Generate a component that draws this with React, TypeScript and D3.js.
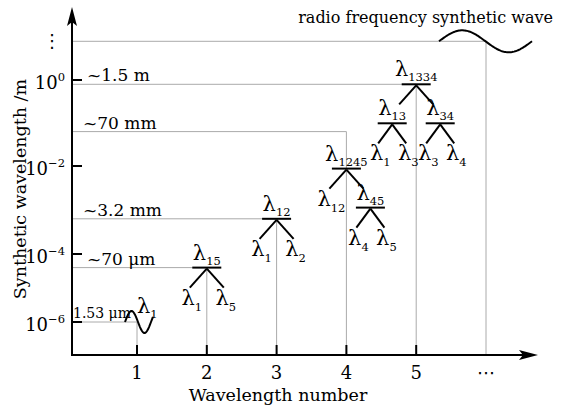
import * as d3 from "d3"

// schematic axes: x = wavelength number, y = log10(synthetic wavelength / m)
const xCategories = [1, 2, 3, 4, 5]
const xTickLabels = ["1", "2", "3", "4", "5", "⋯"]
const yTickExponents = [-6, -4, -2, 0]
const synthLabels = ["1.53 μm", "~70 μm", "~3.2 mm", "~70 mm", "~1.5 m"]
const synthLevels = [-6, -4.4, -3.2, -1.2, -0.1]
const rfCategory = 6
const rfLevel = 0.9

type Node = { sub: string; children?: Node[] }

const trees: { n: number; node: Node }[] = [
  { n: 2, node: { sub: "15", children: [{ sub: "1" }, { sub: "5" }] } },
  { n: 3, node: { sub: "12", children: [{ sub: "1" }, { sub: "2" }] } },
  {
    n: 4,
    node: {
      sub: "1245",
      children: [{ sub: "12" }, { sub: "45", children: [{ sub: "4" }, { sub: "5" }] }],
    },
  },
  {
    n: 5,
    node: {
      sub: "1334",
      children: [
        { sub: "13", children: [{ sub: "1" }, { sub: "3" }] },
        { sub: "34", children: [{ sub: "3" }, { sub: "4" }] },
      ],
    },
  },
]

const W = 572
const H = 409
const axisX = 72
const axisY = 355
const font = "DejaVu Serif, DejaVu Sans, serif"

// the picture is not to scale, so the y scale is piecewise between decades
const x = d3.scaleLinear().domain([1, 6]).range([137, 486])
const y = d3.scaleLinear().domain([-6, -4, -2, 0, 1]).range([322, 254, 166, 80, 37])

function Lambda({ x, y, sub, dy = 6 }: { x: number; y: number; sub: string; dy?: number }) {
  return (
    <text x={x} y={y} textAnchor="middle" fontSize={21} fontFamily={font}>
      λ
      <tspan fontSize={11.5} dy={dy}>
        {sub}
      </tspan>
    </text>
  )
}

function drawNode(node: Node, cx: number, by: number, key: string, out: JSX.Element[], depth = 0) {
  out.push(
    <line key={key + "b"} x1={cx - 14.5} x2={cx + 14.5} y1={by} y2={by} stroke="#000" strokeWidth={2} />
  )
  out.push(<Lambda key={key + "l"} x={cx} y={by - 8} sub={node.sub} dy={5} />)
  node.children?.forEach((c, i) => {
    const dir = i === 0 ? -1 : 1
    const ex = cx + dir * (depth === 0 ? 17 : 14)
    const ey = by + 20
    out.push(
      <line key={key + "e" + i} x1={cx} y1={by + 1} x2={ex} y2={ey} stroke="#000" strokeWidth={2} />
    )
    if (c.children) drawNode(c, ex + dir * 7, ey + 19, key + i, out, depth + 1)
    else out.push(<Lambda key={key + "c" + i} x={ex + 2} y={ey + 17} sub={c.sub} />)
  })
}

function wave(x0: number, y0: number, period: number, amp: number, turns: number) {
  const pts = d3.range(0, turns * period + 0.5, 1).map((t) => [
    x0 + t,
    y0 - amp * Math.sin((2 * Math.PI * t) / period),
  ])
  return d3.line()(pts as [number, number][]) || ""
}

export default function App() {
  const treeMarks: JSX.Element[] = []
  trees.forEach((t) => {
    const drop = t.n === 4 ? 37 : 0
    drawNode(t.node, x(t.n), y(synthLevels[t.n - 1]) + drop, "t" + t.n, treeMarks)
  })

  const rfY = y(rfLevel)
  const x1 = x(1)
  const y1 = y(synthLevels[0])

  return (
    <svg
      width={W}
      height={H}
      style={{ position: "absolute", left: 0, top: 0, background: "#fff" }}
      fontFamily={font}
    >
      {/* guide lines */}
      {xCategories.map((c, i) => (
        <path
          key={"g" + c}
          d={`M${axisX},${y(synthLevels[i])}H${x(c)}V${axisY}`}
          fill="none"
          stroke="#aaa"
          strokeWidth={1}
        />
      ))}
      <path d={`M${axisX},${rfY}H${x(rfCategory)}V${axisY}`} fill="none" stroke="#aaa" strokeWidth={1} />

      {/* level labels */}
      {synthLabels.map((s, i) => {
        const ly = y(synthLevels[i])
        if (i === 0)
          return (
            <text key={s} x={axisX + 1} y={ly - 4} fontSize={14}>
              {s}
            </text>
          )
        const nearTick = yTickExponents.some((e) => Math.abs(y(e) - ly) < 16)
        return (
          <text key={s} x={nearTick ? 87 : 83} y={ly - 3} fontSize={17}>
            {s}
          </text>
        )
      })}

      {/* axes */}
      <line x1={axisX} x2={axisX} y1={axisY + 1} y2={16} stroke="#000" strokeWidth={2} />
      <path d={`M${axisX},7L${axisX + 5},26L${axisX},22L${axisX - 5},26Z`} fill="#000" />
      <line x1={axisX - 1} x2={528} y1={axisY} y2={axisY} stroke="#000" strokeWidth={2} />
      <path d={`M538,${axisY}L519,${axisY - 5}L523,${axisY}L519,${axisY + 5}Z`} fill="#000" />

      {yTickExponents.map((e) => (
        <g key={"yt" + e}>
          <line x1={axisX} x2={axisX + 10} y1={y(e)} y2={y(e)} stroke="#000" strokeWidth={2} />
          <text x={65} y={y(e) + 9} textAnchor="end" fontSize={18}>
            10
            <tspan fontSize={11.5} dy={-8}>
              {e === 0 ? "0" : "−" + Math.abs(e)}
            </tspan>
          </text>
        </g>
      ))}
      <text x={52} y={rfY + 6} textAnchor="middle" fontSize={18}>
        ⋮
      </text>

      {xTickLabels.map((s, i) => (
        <g key={"xt" + s}>
          {i < xCategories.length && (
            <line x1={x(i + 1)} x2={x(i + 1)} y1={axisY} y2={axisY - 10} stroke="#000" strokeWidth={2} />
          )}
          <text x={x(i + 1)} y={379} textAnchor="middle" fontSize={18}>
            {s}
          </text>
        </g>
      ))}

      <text x={278} y={401} textAnchor="middle" fontSize={17.5}>
        Wavelength number
      </text>
      <text transform="translate(26,189) rotate(-90)" textAnchor="middle" fontSize={17.5}>
        Synthetic wavelength /m
      </text>

      {/* single wavelength and radio frequency waves */}
      <path d={wave(x1 - 12, y1, 26, 11, 1.08)} fill="none" stroke="#000" strokeWidth={2} />
      <text x={x1} y={y1 - 9} fontSize={21}>
        λ<tspan fontSize={11.5} dy={5}>1</tspan>
      </text>
      <path d={wave(x(rfCategory) - 47, rfY, 93, 11, 1)} fill="none" stroke="#000" strokeWidth={2} />
      <text x={553} y={23} textAnchor="end" fontSize={16}>
        radio frequency synthetic wave
      </text>

      {treeMarks}
    </svg>
  )
}
